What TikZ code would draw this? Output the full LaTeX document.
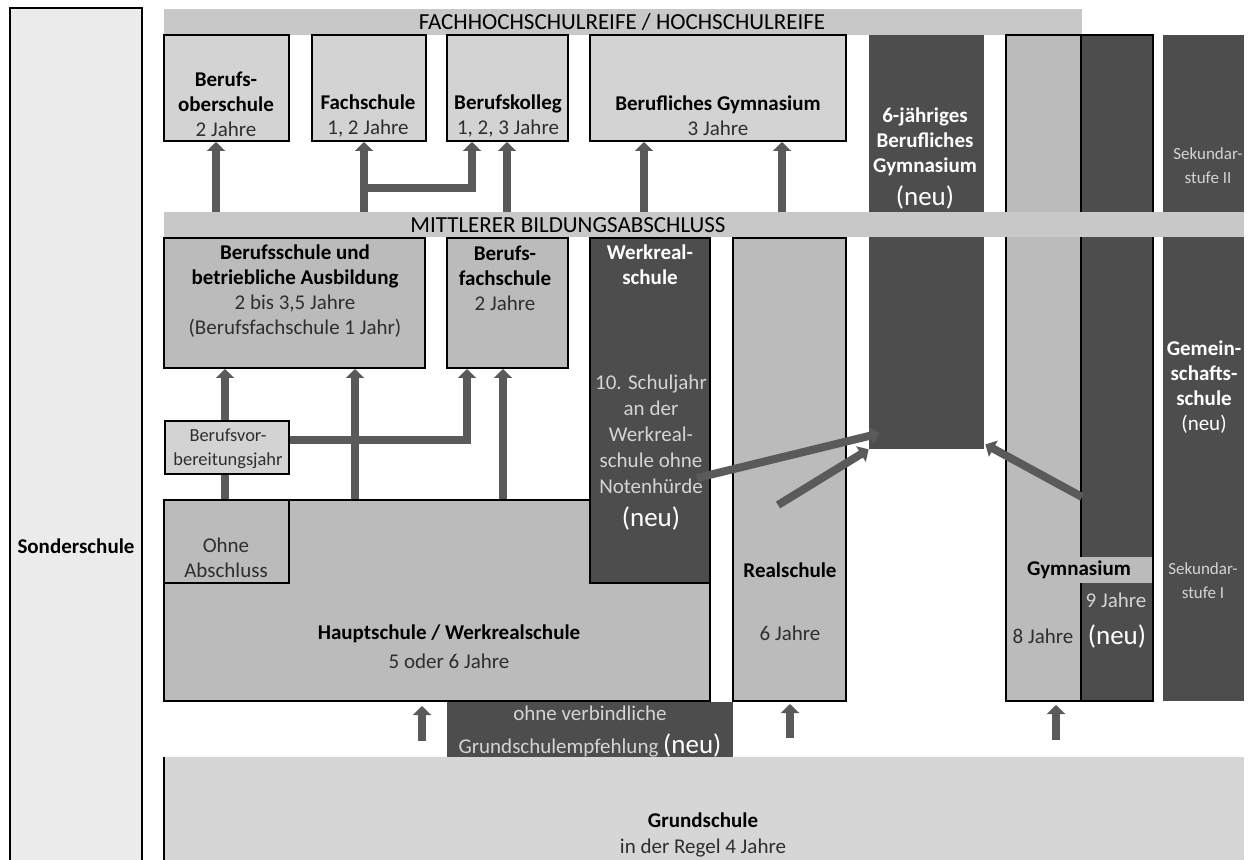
\documentclass[tikz,border=0pt]{standalone}
\usepackage{fontspec}
\setmainfont{Carlito}
\usetikzlibrary{arrows.meta,fit}
\definecolor{bandgrey}{HTML}{C8C8C8}
\definecolor{boxlight}{HTML}{D3D3D3}
\definecolor{boxmid}{HTML}{BBBBBB}
\definecolor{boxdark}{HTML}{4D4D4D}
\definecolor{sonder}{HTML}{EBEBEB}
\definecolor{grund}{HTML}{D6D6D6}
\definecolor{arrgrey}{HTML}{5A5A5A}
\definecolor{txtgrey}{HTML}{2E2E2E}
\definecolor{txtpale}{HTML}{D4D4D4}
\tikzset{>=latex}
\newcommand{\hd}[1]{\textbf{#1}}
\newcommand{\jr}[1]{\textcolor{txtgrey}{#1}}
\newcommand{\pale}[1]{\textcolor{txtpale}{#1}}
\newcommand{\neumark}{\textcolor{white}{\fontsize{13.5}{14}\selectfont (neu)}}

\begin{document}
\begin{tikzpicture}[x=0.5pt, y=-0.5pt,
  box/.style={draw=black, line width=1pt, inner sep=0pt},
  band/.style={fill=bandgrey, inner sep=0pt},
  darkbox/.style={fill=boxdark, inner sep=0pt},
  lbl/.style={align=center, inner sep=0pt, font=\fontsize{10.5}{12.6}\selectfont},
  small/.style={align=center, inner sep=0pt, font=\fontsize{8.5}{12}\selectfont, text=txtpale},
  arr/.style={draw=arrgrey, line width=4pt, line join=miter, -{Triangle[width=9pt,length=4.5pt]}},
  conn/.style={draw=arrgrey, line width=4pt}]
\useasboundingbox (0,0) rectangle (1252,860);

% Sonderschule
\node[box, fill=sonder, fit={(10,8) (142,880)}] (son) {};
\node[lbl] (tson) at (76,546) {\hd{Sonderschule}};

% Fachhochschulreife
\node[band, fit={(164,9) (1082,35)}] (fhr) {};
\node[lbl, font=\fontsize{11.5}{13}\selectfont] (tfhr) at (622,22) {FACHHOCHSCHULREIFE / HOCHSCHULREIFE};

\node[box, fill=boxlight, fit={(164,35) (289,141)}] (bos) {};
\node[box, fill=boxlight, fit={(312,35) (426,141)}] (fs) {};
\node[box, fill=boxlight, fit={(447,35) (568,141)}] (bk) {};
\node[box, fill=boxlight, fit={(590,35) (846,141)}] (bg) {};
\node[lbl] (tbos) at (226,104) {\hd{Berufs-}\\\hd{oberschule}\\\jr{2 Jahre}};
\node[lbl] (tfs) at (368,116) {\hd{Fachschule}\\\jr{1, 2 Jahre}};
\node[lbl] (tbk) at (508,116) {\hd{Berufskolleg}\\\jr{1, 2, 3 Jahre}};
\node[lbl] (tbg) at (718,116) {\hd{Berufliches Gymnasium}\\\jr{3 Jahre}};

% dark columns
\node[darkbox, fit={(869,35) (984,449)}] (bg6) {};
\node[lbl, text=white] (tbg6) at (925,142) {\hd{6-jähriges}\\\hd{Berufliches}\\\hd{Gymnasium}};
\node[lbl] (nbg6) at (925,198) {\neumark};

\node[inner sep=0pt, fill=boxmid, fit={(1006,35) (1081,701)}] (gym8) {};
\node[darkbox, fit={(1081,35) (1153,701)}] (gym9) {};
\node[inner sep=0pt, fill=boxmid, fit={(1081,557) (1153,583)}] (gymband) {};
\node[box, fit={(1006,35) (1153,701)}] (gym) {};
\draw[line width=1pt] (gym9.north west) -- (gymband.north west);
\draw[line width=1pt] (gymband.south west) -- (gym9.south west);
\node[lbl] (tgym) at (1079,570) {\hd{Gymnasium}};
\node[lbl] (tg9) at (1116,600) {\pale{9 Jahre}};
\node[lbl] (tg8) at (1043,636) {\jr{8 Jahre}};
\node[lbl] (ng9) at (1117,636) {\neumark};

\node[darkbox, fit={(1163,35) (1244,701)}] (gms) {};
\node[lbl, text=white] (tgms) at (1204,387) {\hd{Gemein-}\\\hd{schafts-}\\\hd{schule}\\(neu)};
\node[small] (tsek2) at (1208,166) {Sekundar-\\stufe II};
\node[small] (tsek1) at (1203,581) {Sekundar-\\stufe I};

% Mittlerer Bildungsabschluss
\node[band, fit={(164,212) (1244,237)}] (mba) {};
\node[lbl, font=\fontsize{11.5}{13}\selectfont] (tmba) at (568,225) {MITTLERER BILDUNGSABSCHLUSS};

\node[box, fill=boxmid, fit={(164,238) (425,368)}] (bsa) {};
\node[box, fill=boxmid, fit={(447,238) (568,368)}] (bfs) {};
\node[box, fill=boxmid, fit={(733,238) (846,701)}] (rs) {};
\node[box, fill=boxmid, fit={(164,500) (710,701)}] (hs) {};
\node[box, fill=boxdark, fit={(590,238) (710,583)}] (wrs) {};
\node[box, fill=boxmid, fit={(164,500) (289,583)}] (oa) {};
\node[box, fill=boxlight, fit={(165,421) (289,474)}] (bvj) {};
\node[darkbox, fit={(447,702) (733,758)}] (ovg) {};
\node[inner sep=0pt, fill=grund, fit={(164,757) (1244,880)}] (gs) {};
\draw[line width=1pt] (gs.north west) -- (gs.south west);

\node[lbl] (tbsa) at (295,291) {\hd{Berufsschule und}\\\hd{betriebliche Ausbildung}\\\jr{2 bis 3,5 Jahre}\\\jr{(Berufsfachschule 1 Jahr)}};
\node[lbl] (tbfs) at (505,278) {\hd{Berufs-}\\\hd{fachschule}\\\jr{2 Jahre}};
\node[lbl, font=\fontsize{9.2}{12}\selectfont] (tbvj) at (228,449) {\jr{Berufsvor-}\\\jr{bereitungsjahr}};
\node[lbl, text=white] (twrs) at (650,265) {\hd{Werkreal-}\\\hd{schule}};
\node[lbl, font=\fontsize{10.5}{13}\selectfont] (tzsj) at (651,434) {\pale{10. Schuljahr}\\\pale{an der}\\\pale{Werkreal-}\\\pale{schule ohne}\\\pale{Notenhürde}};
\node[lbl] (nwrs) at (651,518) {\neumark};
\node[lbl] (toa) at (226,558) {\jr{Ohne}\\\jr{Abschluss}};
\node[lbl, font=\fontsize{10.5}{14.5}\selectfont] (ths) at (449,647) {\hd{Hauptschule / Werkrealschule}\\\jr{5 oder 6 Jahre}};
\node[lbl] (trs1) at (790,570) {\hd{Realschule}};
\node[lbl] (trs2) at (790,633) {\jr{6 Jahre}};
\node[lbl] (tovg1) at (590,713) {\pale{ohne verbindliche}};
\node[lbl] (tovg2) at (590,745) {\pale{Grundschulempfehlung} \neumark};
\node[lbl] (tgs) at (703,835) {\hd{Grundschule}\\\jr{in der Regel 4 Jahre}};

% arrows to the upper schools
\draw[arr] (216,0 |- mba.north) -- (216,0 |- bos.south);
\draw[arr] (364,0 |- mba.north) -- (364,0 |- fs.south);
\draw[arr] (364,188) -| (472,0 |- bk.south);
\draw[arr] (507,0 |- mba.north) -- (507,0 |- bk.south);
\draw[arr] (644,0 |- mba.north) -- (644,0 |- bg.south);
\draw[arr] (782,0 |- mba.north) -- (782,0 |- bg.south);

% arrows to the middle schools
\draw[arr] (225,0 |- bvj.north) -- (225,0 |- bsa.south);
\draw[conn] (225,0 |- hs.north) -- (225,0 |- bvj.south);
\draw[arr] (355,0 |- hs.north) -- (355,0 |- bsa.south);
\draw[arr] (bvj.east |- 0,440) -| (467,0 |- bfs.south);
\draw[arr] (503,0 |- hs.north) -- (503,0 |- bfs.south);

% into the 6-jaehriges Berufliches Gymnasium
\coordinate (wrsout) at (697,478);
\coordinate (rsout) at (778,505);
\coordinate (gymout) at (1082,497);
\draw[arr] (wrsout) -- ([shift={(11,-16)}]bg6.south west);
\draw[arr] (rsout) -- (bg6.south west);
\draw[arr] (gymout) -- ([shift={(1,-5)}]bg6.south east);

% from the Grundschule
\draw[arr, shorten <=8pt, shorten >=2pt] (422,0 |- gs.north) -- (422,0 |- hs.south);
\draw[arr, shorten <=9.5pt, shorten >=1pt] (790,0 |- gs.north) -- (790,0 |- rs.south);
\draw[arr, shorten <=8.5pt, shorten >=1.5pt] (1056,0 |- gs.north) -- (1056,0 |- gym.south);
\end{tikzpicture}
\end{document}
